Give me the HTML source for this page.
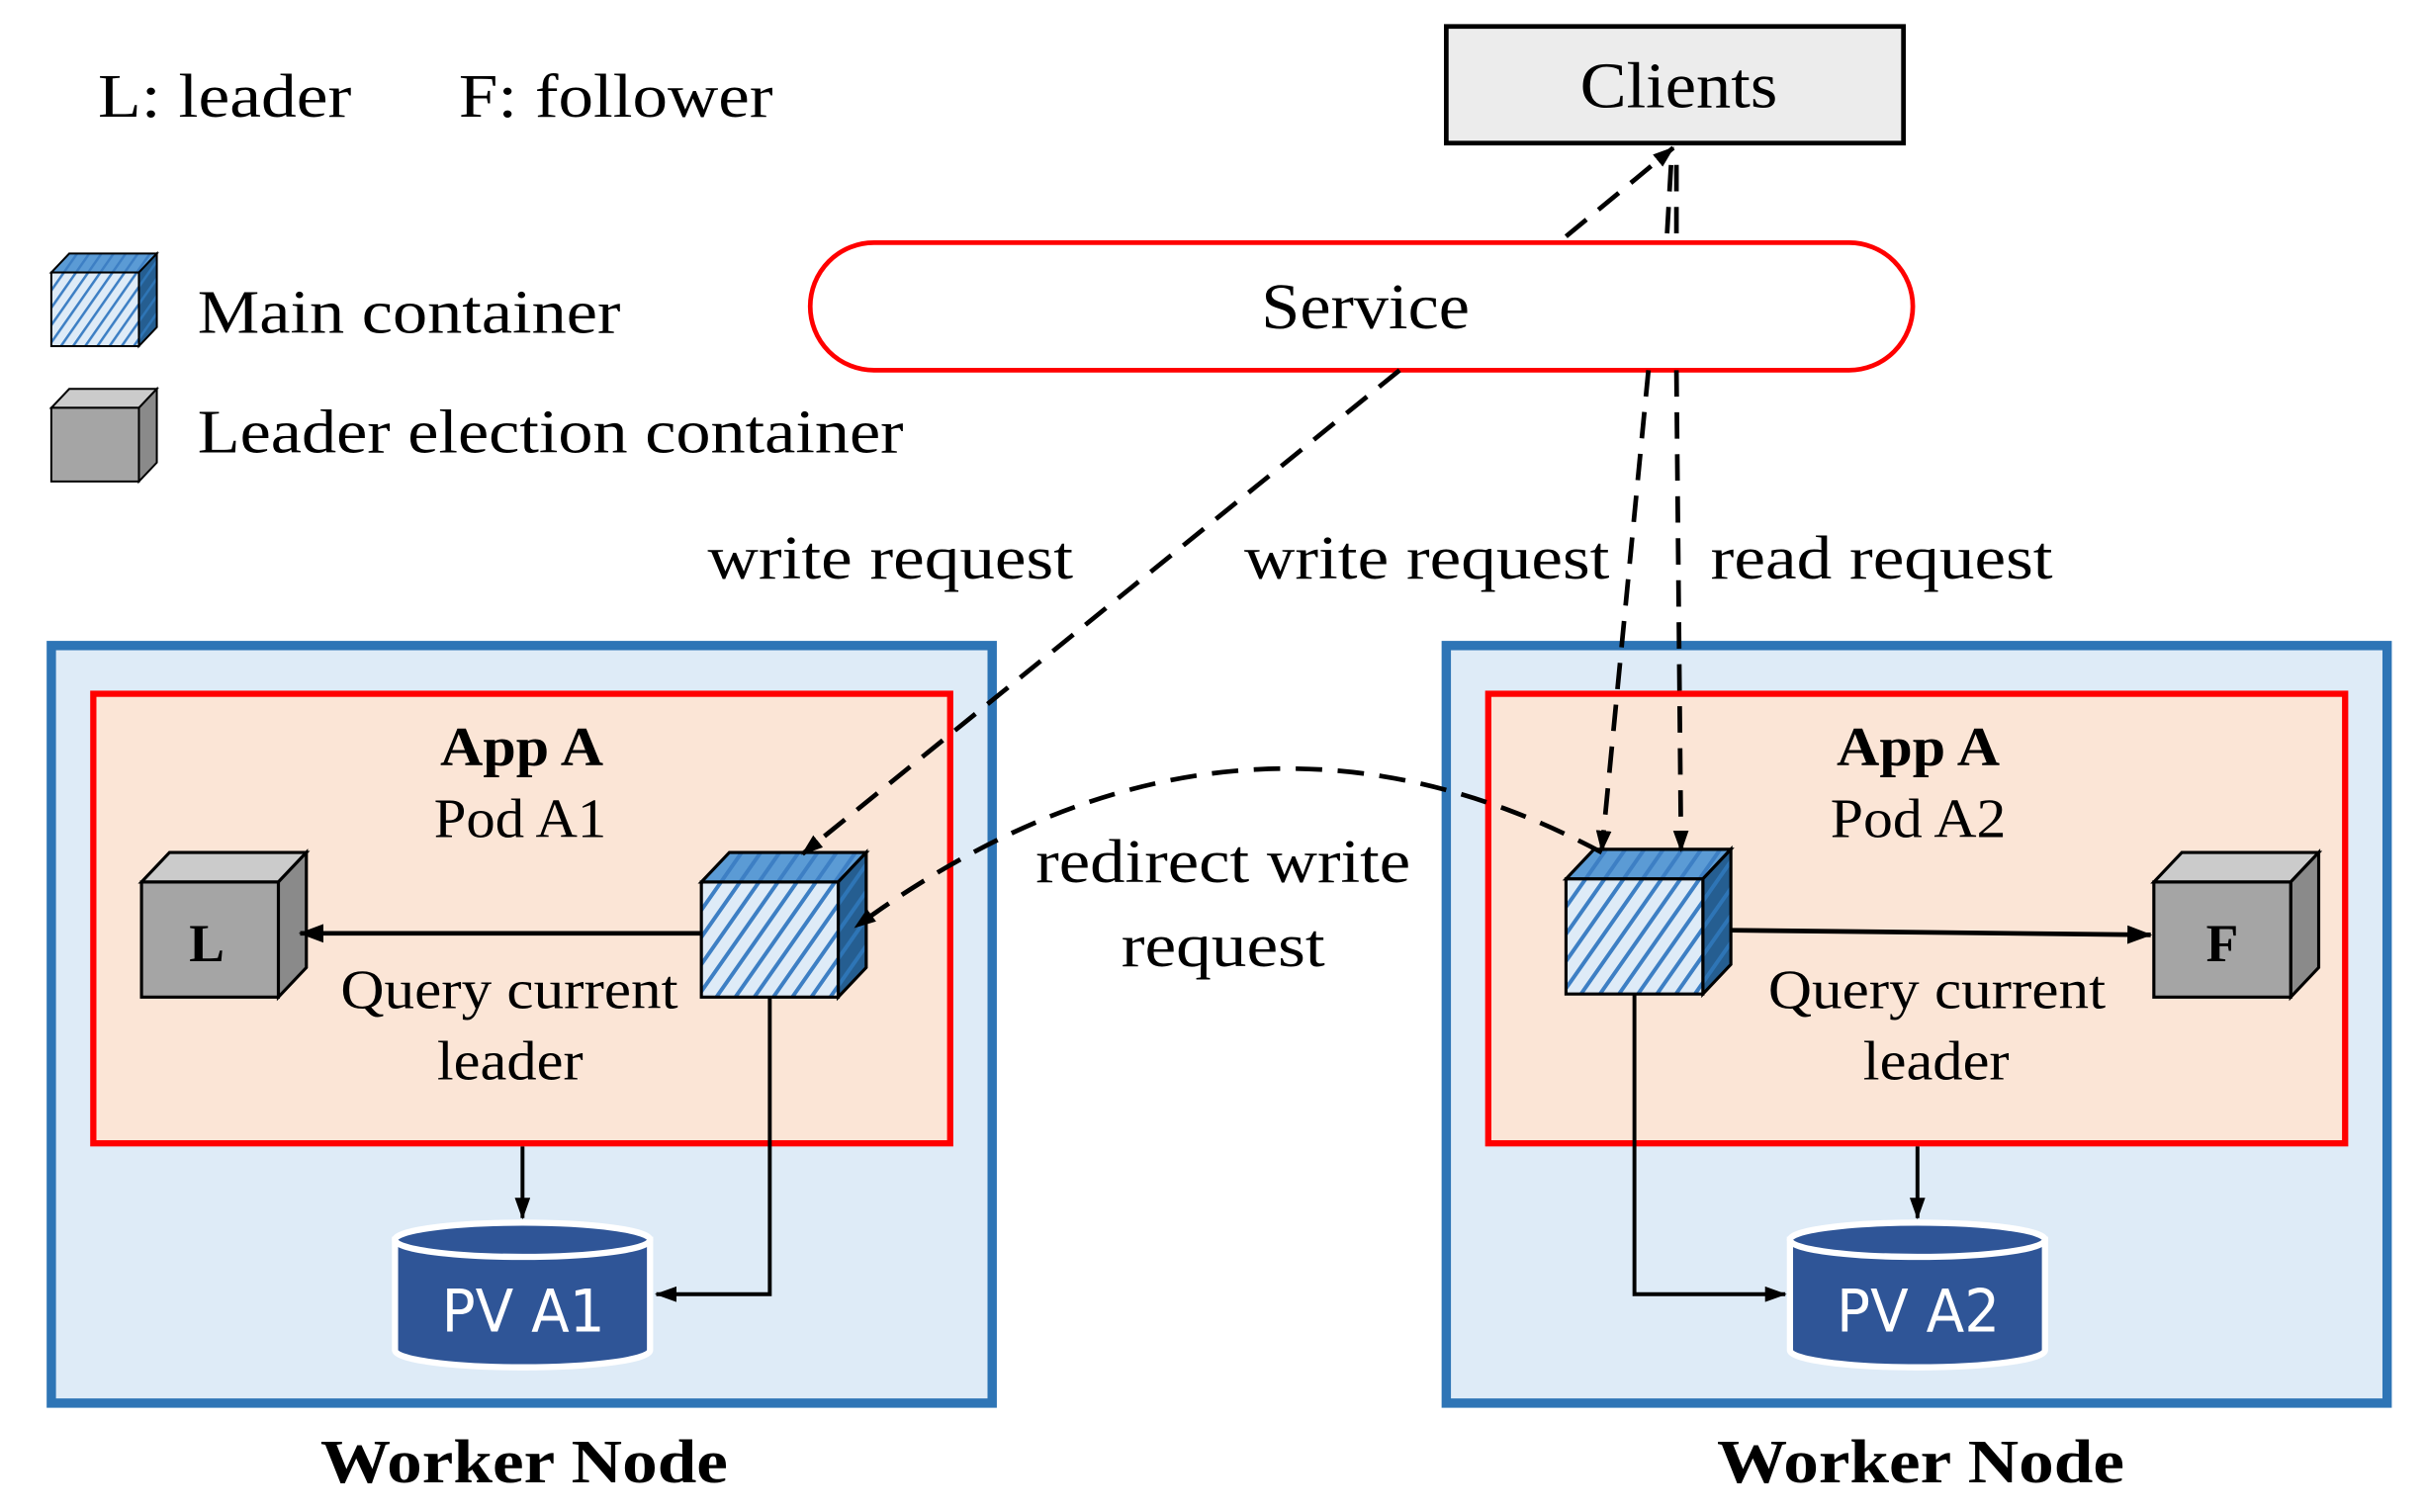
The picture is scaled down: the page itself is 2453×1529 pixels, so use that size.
<!DOCTYPE html>
<html><head><meta charset="utf-8"><style>html,body{margin:0;padding:0;background:#fff}svg{display:block}</style></head>
<body>
<svg width="2453" height="1529" viewBox="0 0 1560 972" preserveAspectRatio="none" xmlns="http://www.w3.org/2000/svg" font-family="'Liberation Serif', serif">
<defs>
<pattern id="h" width="10" height="10" patternUnits="userSpaceOnUse" patternTransform="rotate(35)">
<rect width="10" height="10" fill="#deebf7"/><rect width="2.5" height="10" fill="#3d7fc4"/></pattern>
<pattern id="ht" width="10" height="10" patternUnits="userSpaceOnUse" patternTransform="rotate(35)">
<rect width="10" height="10" fill="#5b9bd5"/><rect width="2.5" height="10" fill="#3d7fc4"/></pattern>
<pattern id="hs" width="10" height="10" patternUnits="userSpaceOnUse" patternTransform="rotate(35)">
<rect width="10" height="10" fill="#255e91"/><rect width="2.5" height="10" fill="#2e75b6"/></pattern>
<marker id="a" markerWidth="14" markerHeight="10" refX="13" refY="5" orient="auto" markerUnits="userSpaceOnUse"><path d="M0,0 L14,5 L0,10 z" fill="#000"/></marker>
<marker id="b" markerWidth="16" markerHeight="12" refX="15" refY="6" orient="auto" markerUnits="userSpaceOnUse"><path d="M0,0 L16,6 L0,12 z" fill="#000"/></marker>
<symbol id="mc" overflow="visible">
<path d="M0,19 L18,0 L106,0 L88,19 z" fill="url(#ht)" stroke="#000" stroke-width="2"/>
<path d="M88,19 L106,0 L106,74 L88,93 z" fill="url(#hs)" stroke="#000" stroke-width="2"/>
<rect x="0" y="19" width="88" height="74" fill="url(#h)" stroke="#000" stroke-width="2"/>
</symbol>
<symbol id="gc" overflow="visible">
<path d="M0,19 L18,0 L106,0 L88,19 z" fill="#cbcbcb" stroke="#000" stroke-width="2"/>
<path d="M88,19 L106,0 L106,74 L88,93 z" fill="#8a8a8a" stroke="#000" stroke-width="2"/>
<rect x="0" y="19" width="88" height="74" fill="#a5a5a5" stroke="#000" stroke-width="2"/>
</symbol>
</defs>
<g lengthAdjust="spacingAndGlyphs">
<text x="63" y="75" font-size="40" textLength="163" lengthAdjust="spacingAndGlyphs">L: leader</text>
<text x="295" y="75" font-size="40" textLength="202" lengthAdjust="spacingAndGlyphs">F: follower</text>
<g transform="translate(33,163) scale(0.64,0.64)"><use href="#mc"/></g>
<text x="127" y="214" font-size="40" textLength="272" lengthAdjust="spacingAndGlyphs">Main container</text>
<g transform="translate(33,250) scale(0.64,0.64)"><use href="#gc"/></g>
<text x="127" y="291" font-size="40" textLength="454" lengthAdjust="spacingAndGlyphs">Leader election container</text>
</g>

<rect x="930" y="17" width="294" height="75" fill="#ececec" stroke="#000" stroke-width="3"/>
<text x="1016" y="69" font-size="42" textLength="127" lengthAdjust="spacingAndGlyphs">Clients</text>
<rect x="521" y="156" width="709" height="82" rx="41" fill="#fff" stroke="#f00" stroke-width="3"/>
<text x="811" y="211" font-size="42" textLength="134" lengthAdjust="spacingAndGlyphs">Service</text>

<rect x="33" y="415" width="605" height="487" fill="#deebf7" stroke="#2e75b6" stroke-width="6"/>
<rect x="60" y="446" width="551" height="289" fill="#fbe5d6" stroke="#f00" stroke-width="4"/>
<rect x="930" y="415" width="605" height="487" fill="#deebf7" stroke="#2e75b6" stroke-width="6"/>
<rect x="957" y="446" width="551" height="289" fill="#fbe5d6" stroke="#f00" stroke-width="4"/>

<text x="283" y="492" font-size="36" font-weight="bold" textLength="105" lengthAdjust="spacingAndGlyphs">App A</text>
<text x="279" y="538" font-size="36" textLength="111" lengthAdjust="spacingAndGlyphs">Pod A1</text>
<text x="1181" y="492" font-size="36" font-weight="bold" textLength="105" lengthAdjust="spacingAndGlyphs">App A</text>
<text x="1177" y="538" font-size="36" textLength="113" lengthAdjust="spacingAndGlyphs">Pod A2</text>

<g transform="translate(91,548)"><use href="#gc"/></g>
<text x="133" y="618" font-size="34" font-weight="bold" text-anchor="middle">L</text>
<g transform="translate(451,548)"><use href="#mc"/></g>
<g transform="translate(1385,548)"><use href="#gc"/></g>
<text x="1429" y="618" font-size="34" font-weight="bold" text-anchor="middle">F</text>
<g transform="translate(1007,546)"><use href="#mc"/></g>

<line x1="451" y1="600" x2="193" y2="600" stroke="#000" stroke-width="3" marker-end="url(#b)"/>
<line x1="1113" y1="598" x2="1383" y2="601" stroke="#000" stroke-width="3" marker-end="url(#b)"/>
<text x="219" y="648" font-size="36" textLength="217" lengthAdjust="spacingAndGlyphs">Query current</text>
<text x="281" y="694" font-size="36" textLength="94" lengthAdjust="spacingAndGlyphs">leader</text>
<text x="1137" y="648" font-size="36" textLength="217" lengthAdjust="spacingAndGlyphs">Query current</text>
<text x="1198" y="694" font-size="36" textLength="94" lengthAdjust="spacingAndGlyphs">leader</text>

<line x1="336" y1="737" x2="336" y2="783" stroke="#000" stroke-width="2.5" marker-end="url(#a)"/>
<line x1="1233" y1="737" x2="1233" y2="783" stroke="#000" stroke-width="2.5" marker-end="url(#a)"/>
<polyline points="495,641 495,832 422,832" fill="none" stroke="#000" stroke-width="2.5" marker-end="url(#a)"/>
<polyline points="1051,639 1051,832 1148,832" fill="none" stroke="#000" stroke-width="2.5" marker-end="url(#a)"/>

<g stroke="#fff" stroke-width="4">
<path d="M254,797 L254,868 A82,11 0 0 0 418,868 L418,797 z" fill="#2f5597"/>
<ellipse cx="336" cy="797" rx="82" ry="11" fill="#2f5597"/>
<path d="M1151,797 L1151,868 A82,11 0 0 0 1315,868 L1315,797 z" fill="#2f5597"/>
<ellipse cx="1233" cy="797" rx="82" ry="11" fill="#2f5597"/>
</g>
<text x="284" y="856" font-size="38" fill="#fff" textLength="105" lengthAdjust="spacingAndGlyphs" font-family="'DejaVu Sans','Liberation Sans',sans-serif">PV A1</text>
<text x="1181" y="856" font-size="38" fill="#fff" textLength="105" lengthAdjust="spacingAndGlyphs" font-family="'DejaVu Sans','Liberation Sans',sans-serif">PV A2</text>

<text x="206" y="953" font-size="40" font-weight="bold" textLength="262" lengthAdjust="spacingAndGlyphs">Worker Node</text>
<text x="1104" y="953" font-size="40" font-weight="bold" textLength="262" lengthAdjust="spacingAndGlyphs">Worker Node</text>

<g fill="none" stroke="#000" stroke-width="3" stroke-dasharray="17,10">
<path d="M1007,152 L1076,95" marker-end="url(#a)"/>
<path d="M1072,150 L1075,98"/>
<path d="M1078,150 L1078,98"/>
<path d="M900,238 L516,549" marker-end="url(#a)"/>
<path d="M1060,238 L1030,547" marker-end="url(#a)"/>
<path d="M1078,238 L1081,547" marker-end="url(#a)"/>
<path d="M1030,548 Q790,420 550,596" marker-end="url(#a)"/>
</g>

<text x="455" y="372" font-size="40" textLength="235" lengthAdjust="spacingAndGlyphs">write request</text>
<text x="800" y="372" font-size="40" textLength="235" lengthAdjust="spacingAndGlyphs">write request</text>
<text x="1100" y="372" font-size="40" textLength="220" lengthAdjust="spacingAndGlyphs">read request</text>
<text x="666" y="567" font-size="40" textLength="241" lengthAdjust="spacingAndGlyphs">redirect write</text>
<text x="721" y="621" font-size="40" textLength="131" lengthAdjust="spacingAndGlyphs">request</text>
</svg>
</body></html>
